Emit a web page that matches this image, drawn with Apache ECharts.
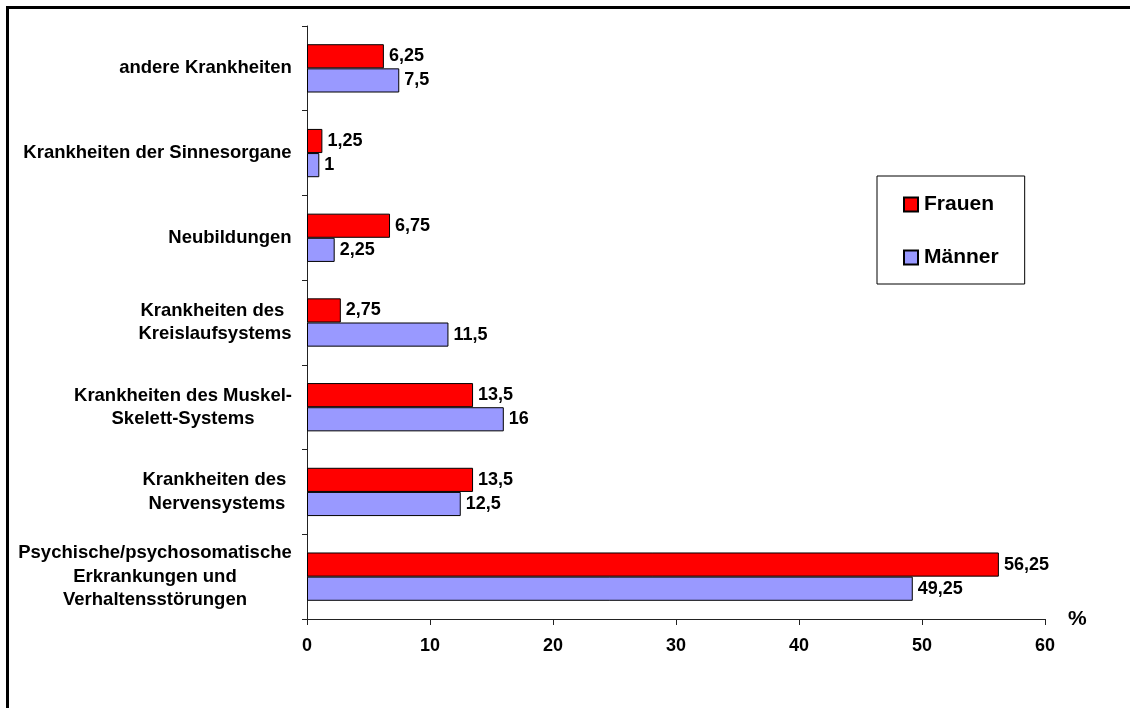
<!DOCTYPE html>
<html>
<head>
<meta charset="utf-8">
<script src="https://cdn.jsdelivr.net/npm/echarts@6/dist/echarts.min.js"></script>
<style>
  html, body { margin: 0; padding: 0; background: #fff; }
  #chart { width: 1130px; height: 708px; }
</style>
</head>
<body>
<div id="chart"></div>
<script>
// Categories listed bottom to top (category axis starts at the bottom)
const categories = [
  'Psychische/psychosomatische\nErkrankungen und\nVerhaltensstörungen',
  'Krankheiten des \nNervensystems',
  'Krankheiten des Muskel-\nSkelett-Systems',
  'Krankheiten des \nKreislaufsystems',
  'Neubildungen',
  'Krankheiten der Sinnesorgane',
  'andere Krankheiten'
];
const frauen = [56.25, 13.5, 13.5, 2.75, 6.75, 1.25, 6.25];
const maenner = [49.25, 12.5, 16, 11.5, 2.25, 1, 7.5];
const seriesNames = ['Frauen', 'Männer'];

const FONT = '"Liberation Sans", Arial, Helvetica, sans-serif';
const LABEL_SIZE = 18.5;

// Each multi-line category label is centred line by line inside a box as wide as its longest line
const ctx = document.createElement('canvas').getContext('2d');
ctx.font = 'bold ' + LABEL_SIZE + 'px ' + FONT;
const rich = {};
categories.forEach((c, i) => {
  const w = Math.max(...c.split('\n').map(l => ctx.measureText(l).width));
  rich['c' + i] = {
    width: Math.ceil(w),
    align: 'center',
    fontSize: LABEL_SIZE,
    fontWeight: 'bold',
    fontFamily: FONT,
    color: '#000',
    lineHeight: 23.5
  };
});

const fmt = v => String(v).replace('.', ',');

const chart = echarts.init(document.getElementById('chart'), null, { renderer: 'canvas' });
chart.setOption({
  animation: false,
  backgroundColor: '#fff',
  textStyle: { fontFamily: FONT },
  graphic: [{
    type: 'rect',
    shape: { x: 7.5, y: 7.5, width: 1200, height: 800 },
    style: { fill: 'none', stroke: '#000', lineWidth: 3 },
    silent: true
  }],
  grid: { left: 307, top: 26, right: 85, bottom: 89, containLabel: false },
  legend: {
    data: seriesNames,
    orient: 'vertical',
    left: 877,
    top: 176,
    padding: [18, 26, 16, 26],
    itemGap: 32,
    itemWidth: 14,
    itemHeight: 14,
    icon: 'rect',
    borderColor: '#000',
    borderWidth: 1,
    textStyle: { fontSize: 21, fontWeight: 'bold', color: '#000', fontFamily: FONT, padding: [0, 0, 0, 1] }
  },
  xAxis: {
    type: 'value',
    min: 0,
    max: 60,
    interval: 10,
    name: '%',
    nameLocation: 'end',
    nameGap: 23,
    nameTextStyle: { fontSize: 21, fontWeight: 'bold', color: '#000', fontFamily: FONT, verticalAlign: 'middle' },
    splitLine: { show: false },
    axisLine: { show: true, lineStyle: { color: '#222', width: 1 } },
    axisTick: { show: true, inside: false, length: 6, lineStyle: { color: '#222' } },
    axisLabel: { fontSize: 18, fontWeight: 'bold', color: '#000', margin: 18, fontFamily: FONT }
  },
  yAxis: {
    type: 'category',
    data: categories,
    axisLine: { show: true, lineStyle: { color: '#222', width: 1 } },
    axisTick: { show: true, inside: false, length: 5, lineStyle: { color: '#222' } },
    axisLabel: {
      margin: 15,
      formatter: (v, i) => v.split('\n').map(l => '{c' + i + '|' + l + '}').join('\n'),
      rich: rich
    }
  },
  series: [
    {
      name: seriesNames[0],
      type: 'bar',
      data: frauen,
      barGap: '0%',
      barCategoryGap: '43%',
      itemStyle: { color: '#FF0000', borderColor: '#000', borderWidth: 1 },
      label: {
        show: true, position: 'right', distance: 5,
        fontSize: 18, fontWeight: 'bold', color: '#000', fontFamily: FONT,
        formatter: p => fmt(p.value)
      }
    },
    {
      name: seriesNames[1],
      type: 'bar',
      data: maenner,
      barGap: '0%',
      barCategoryGap: '43%',
      itemStyle: { color: '#9999FF', borderColor: '#000', borderWidth: 1 },
      label: {
        show: true, position: 'right', distance: 5,
        fontSize: 18, fontWeight: 'bold', color: '#000', fontFamily: FONT,
        formatter: p => fmt(p.value)
      }
    }
  ]
});
</script>
</body>
</html>
